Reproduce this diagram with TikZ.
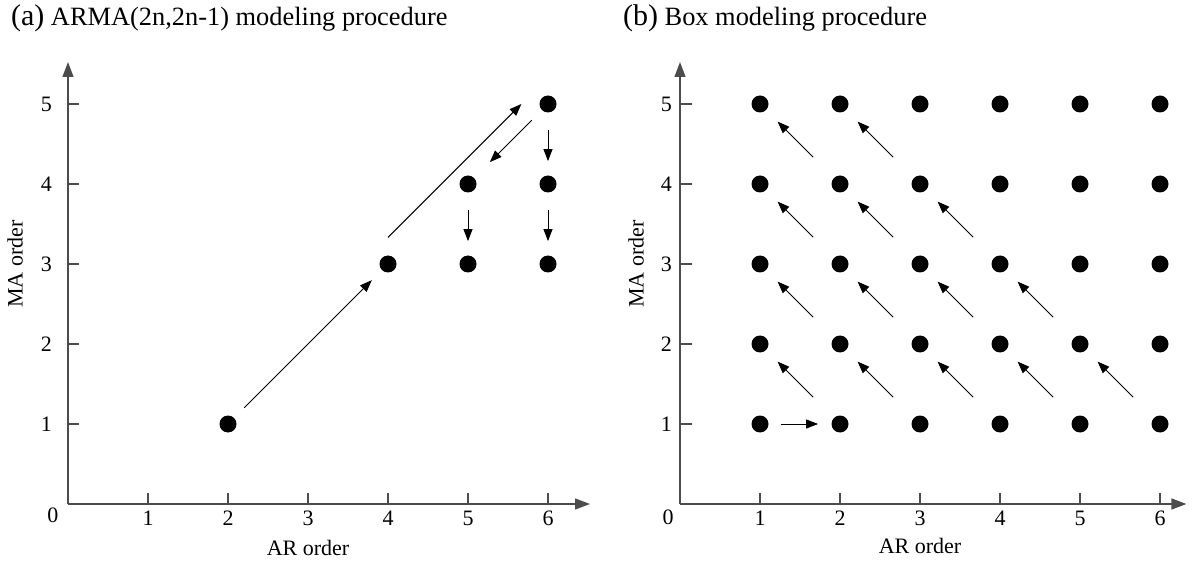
\documentclass[tikz,border=0pt]{standalone}
\usepackage{fontspec}
\setmainfont{Liberation Serif}
\usetikzlibrary{arrows.meta}

\begin{document}
\begin{tikzpicture}[
  x=40pt,y=40pt,
  every node/.style={font=\fontsize{11}{13}\selectfont},
  dot/.style={circle,fill=black,inner sep=0pt,minimum size=8.5pt},
  axis/.style={-{Triangle[length=7.5pt,width=5.5pt]},line width=0.65pt,draw=black!70},
  tickmark/.style={line width=0.65pt,draw=black!70},
  hop/.style={-{Triangle[length=6pt,width=4.5pt]},line width=0.5pt},
  title/.style={anchor=west,font=\fontsize{13.2}{15}\selectfont}
]
\useasboundingbox (-0.85,-0.7375) rectangle (14.15,6.3);

% (a) ARMA(2n,2n-1) procedure
\begin{scope}
\node[title] (titleA) at (-0.80,6.075) {{\fontsize{15}{15}\selectfont(a)} ARMA(2n,2n-1) modeling procedure};
\draw[axis] (0,0) -- (0,5.525);
\draw[axis] (0,0) -- (6.525,0);
\foreach \k in {1,...,5} {
  \draw[tickmark] (0,\k) -- (0.14,\k);
  \node (ya\k) at (-0.27,\k) {\k};
}
\foreach \k in {1,...,6} {
  \draw[tickmark] (\k,0) -- (\k,0.14);
  \node (xa\k) at (\k,-0.18) {\k};
}
\node (zeroA) at (-0.19,-0.14) {0};
\node[rotate=90] (maA) at (-0.66,3) {MA order};
\node (arA) at (3,-0.55) {AR order};
\foreach \i/\j in {2/1,4/3,5/3,6/3,5/4,6/4,6/5}
  \node[dot] (a\i\j) at (\i,\j) {};
\draw[hop,shorten <=7pt,shorten >=7pt] (a21) -- (a43);
\draw[hop] ([yshift=13.3pt]a43.center) -- ([xshift=-13.3pt]a65.center);
\draw[hop,shorten <=7pt,shorten >=11pt] (a65) -- (a54);
\draw[hop,shorten <=8.5pt,shorten >=7pt] (a65) -- (a64);
\draw[hop,shorten <=8.5pt,shorten >=7pt] (a64) -- (a63);
\draw[hop,shorten <=8.5pt,shorten >=7pt] (a54) -- (a53);
\end{scope}

% (b) Box procedure
\begin{scope}[xshift=306pt]
\node[title] (titleB) at (-0.80,6.075) {{\fontsize{15}{15}\selectfont(b)} Box modeling procedure};
\draw[axis] (0,0) -- (0,5.525);
\draw[axis] (0,0) -- (6.33,0);
\foreach \k in {1,...,5} {
  \draw[tickmark] (0,\k) -- (0.15,\k);
  \node (yb\k) at (-0.17,\k) {\k};
}
\foreach \k in {1,...,6} {
  \draw[tickmark] (\k,0) -- (\k,0.14);
  \node (xb\k) at (\k,-0.18) {\k};
}
\node (zeroB) at (-0.15,-0.16) {0};
\node[rotate=90] (maB) at (-0.55,3) {MA order};
\node (arB) at (3,-0.53) {AR order};
\foreach \i in {1,...,6}
  \foreach \j in {1,...,5}
    \node[dot] (b\i\j) at (\i,\j) {};
\draw[hop,shorten <=6pt,shorten >=6.5pt] (b11) -- (b21);
\foreach \j in {1,...,4} {
  \pgfmathtruncatemacro{\last}{7-\j}
  \pgfmathtruncatemacro{\jj}{\j+1}
  \foreach \i [evaluate=\i as \ii using int(\i-1)] in {2,...,\last}
    \draw[hop,shorten <=14.5pt,shorten >=8pt] (b\i\j) -- (b\ii\jj);
}
\end{scope}
\end{tikzpicture}
\end{document}
